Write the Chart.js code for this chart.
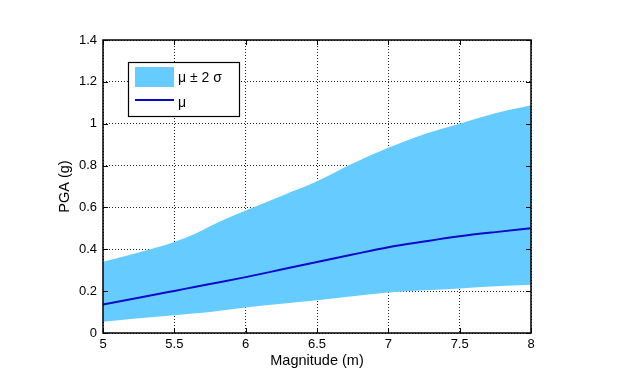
<!DOCTYPE html>
<html><head><meta charset="utf-8">
<script src="https://cdn.jsdelivr.net/npm/chart.js@4/dist/chart.umd.min.js"></script>
<style>html,body{margin:0;padding:0;background:#fff}#w{width:623px;height:390px}</style>
</head><body><div id="w"><canvas id="c"></canvas></div>
<script>
const magnitudes = [5, 5.25, 5.5, 5.65, 5.75, 6, 6.25, 6.5, 6.75, 7, 7.25, 7.5, 7.75, 8];
const upperBand = [0.34, 0.385, 0.435, 0.475, 0.51, 0.585, 0.655, 0.725, 0.81, 0.885, 0.95, 1.0, 1.05, 1.088];
const meanPGA   = [0.136, 0.168, 0.201, 0.221, 0.234, 0.267, 0.303, 0.339, 0.375, 0.41, 0.437, 0.462, 0.482, 0.5];
const lowerBand = [0.054, 0.07, 0.085, 0.094, 0.1, 0.122, 0.14, 0.157, 0.176, 0.193, 0.204, 0.213, 0.223, 0.231];
const xTicks = [5, 5.5, 6, 6.5, 7, 7.5, 8];
const yTicks = [0, 0.2, 0.4, 0.6, 0.8, 1, 1.2, 1.4];
const legendLabels = ['\u03bc \u00b1 2 \u03c3', '\u03bc'];
const bandColor = '#66CCFF';
const lineColor = '#0A0ACD';

const pts = a => magnitudes.map((x, i) => ({x, y: a[i]}));

const frame = {
  id: 'frame',
  afterDraw(chart) {
    const {ctx, chartArea: a, scales: {x, y}} = chart;
    ctx.save();
    ctx.strokeStyle = '#000'; ctx.lineWidth = 1;
    ctx.beginPath();
    xTicks.forEach(v => {
      const px = Math.round(x.getPixelForValue(v)) + 0.5;
      ctx.moveTo(px, a.bottom); ctx.lineTo(px, a.bottom - 5);
      ctx.moveTo(px, a.top); ctx.lineTo(px, a.top + 5);
    });
    yTicks.forEach(v => {
      const py = Math.round(y.getPixelForValue(v)) + 0.5;
      ctx.moveTo(a.left, py); ctx.lineTo(a.left + 5, py);
      ctx.moveTo(a.right, py); ctx.lineTo(a.right - 5, py);
    });
    ctx.stroke();
    ctx.lineWidth = 1.5;
    ctx.strokeRect(a.left, a.top, a.right - a.left, a.bottom - a.top);
    // legend
    const lx = 128, ly = 62, lw = 111, lh = 54;
    ctx.fillStyle = '#fff'; ctx.fillRect(lx, ly, lw, lh);
    ctx.lineWidth = 1.2; ctx.strokeStyle = '#000'; ctx.strokeRect(lx + 0.5, ly + 0.5, lw, lh);
    ctx.fillStyle = bandColor; ctx.fillRect(135, 67, 39, 20);
    ctx.strokeStyle = lineColor; ctx.lineWidth = 2;
    ctx.beginPath(); ctx.moveTo(135, 100); ctx.lineTo(174, 100); ctx.stroke();
    ctx.fillStyle = '#000'; ctx.font = '14px "Liberation Sans", Arial, sans-serif';
    ctx.textBaseline = 'middle'; ctx.textAlign = 'left';
    ctx.fillText(legendLabels[0], 178, 78);
    ctx.fillText(legendLabels[1], 178, 103);
    ctx.restore();
  }
};

const font = {family: '"Liberation Sans", Arial, sans-serif', size: 13};
const titleFont = {family: '"Liberation Sans", Arial, sans-serif', size: 14.5};
const fmt = v => String(Math.round(v * 10) / 10);
new Chart(document.getElementById('c'), {
  type: 'line',
  data: {datasets: [
    {label: 'lower', data: pts(lowerBand), borderWidth: 0, borderColor: 'rgba(0,0,0,0)', pointRadius: 0, fill: false, cubicInterpolationMode: 'monotone', order: 2},
    {label: legendLabels[0], data: pts(upperBand), borderWidth: 0, borderColor: 'rgba(0,0,0,0)', backgroundColor: bandColor, pointRadius: 0, fill: '-1', cubicInterpolationMode: 'monotone', order: 1},
    {label: legendLabels[1], data: pts(meanPGA), borderWidth: 2, borderColor: lineColor, pointRadius: 0, fill: false, cubicInterpolationMode: 'monotone', order: 0}
  ]},
  options: {
    responsive: true, maintainAspectRatio: false, animation: false,
    layout: {padding: {top: 40, right: 92, left: 56, bottom: 20}},
    plugins: {legend: {display: false}, tooltip: {enabled: false}},
    scales: {
      x: {type: 'linear', min: 5, max: 8,
        afterBuildTicks(s) { s.ticks = xTicks.map(v => ({value: v})); },
        ticks: {color: '#000', font, padding: 4, callback: fmt},
        grid: {color: '#222', lineWidth: 1, drawTicks: false},
        border: {display: false, dash: [1, 2]},
        title: {display: true, text: 'Magnitude (m)', color: '#000', font: titleFont, padding: {top: 0, bottom: 0}},
        afterFit(s) { s.height = 37; }
      },
      y: {min: 0, max: 1.4,
        afterBuildTicks(s) { s.ticks = yTicks.map(v => ({value: v})); },
        ticks: {color: '#000', font, padding: 6, callback: fmt},
        grid: {color: '#222', lineWidth: 1, drawTicks: false},
        border: {display: false, dash: [1, 2]},
        title: {display: true, text: 'PGA (g)', color: '#000', font: titleFont, padding: {top: 0, bottom: 2}},
        afterFit(s) { s.width = 47; }
      }
    }
  },
  plugins: [frame]
});
</script></body></html>
